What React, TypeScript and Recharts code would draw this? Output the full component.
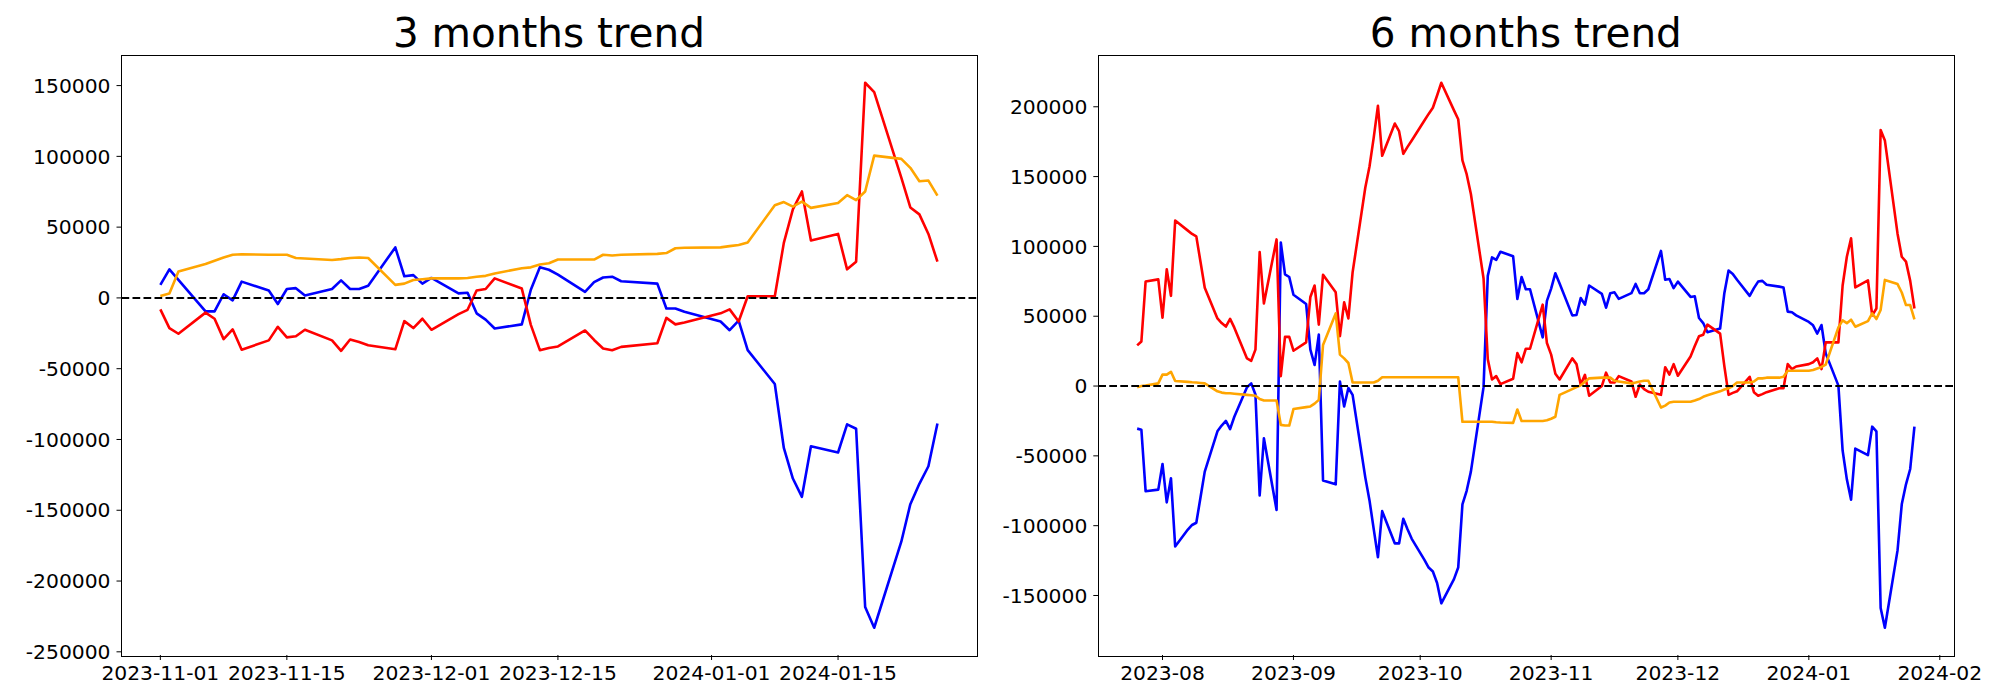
import { LineChart, Line, XAxis, YAxis, ReferenceLine } from "recharts"

// 3 months panel
const shortDates = [
  "2023-11-01", "2023-11-02", "2023-11-03", "2023-11-06", "2023-11-07", "2023-11-08", "2023-11-09", "2023-11-10",
  "2023-11-13", "2023-11-14", "2023-11-15", "2023-11-16", "2023-11-17", "2023-11-20", "2023-11-21", "2023-11-22",
  "2023-11-23", "2023-11-24", "2023-11-27", "2023-11-28", "2023-11-29", "2023-11-30", "2023-12-01", "2023-12-04",
  "2023-12-05", "2023-12-06", "2023-12-07", "2023-12-08", "2023-12-11", "2023-12-12", "2023-12-13", "2023-12-14",
  "2023-12-15", "2023-12-18", "2023-12-19", "2023-12-20", "2023-12-21", "2023-12-22", "2023-12-26", "2023-12-27",
  "2023-12-28", "2023-12-29", "2024-01-02", "2024-01-03", "2024-01-04", "2024-01-05", "2024-01-08", "2024-01-09",
  "2024-01-10", "2024-01-11", "2024-01-12", "2024-01-15", "2024-01-16", "2024-01-17", "2024-01-18", "2024-01-19",
  "2024-01-22", "2024-01-23", "2024-01-24", "2024-01-25", "2024-01-26",
]
const shortBlue = [
  9200, 20200, 12800, -9500, -9500, 2600, -1700, 11500,
  5200, -4300, 6300, 6900, 1700, 6300, 12400, 6300,
  6300, 8600, 35700, 15300, 16100, 10100, 14100, 3200,
  3700, -10900, -15300, -21600, -18700, 5800, 21600, 19900,
  16400, 4300, 11200, 14400, 15000, 11800, 10100, -7500,
  -7500, -9800, -16700, -22800, -16100, -36900, -60800, -106000,
  -127600, -140500, -104800, -109200, -89300, -92400, -218300, -233000,
  -172200, -145700, -131300, -118900, -88700,
]
const shortRed = [
  -8100, -21300, -25300, -10400, -14700, -29100, -22200, -36600,
  -30000, -20400, -27900, -27100, -22500, -30000, -37400, -29400,
  -31100, -33400, -36300, -16400, -21300, -14700, -22500, -11500,
  -8400, 5200, 6300, 13800, 6600, -19000, -36900, -35400,
  -34300, -23000, -29700, -35700, -36900, -34600, -32000, -14100,
  -18700, -17300, -10900, -8100, -16700, 1200, 1200, 38900,
  62500, 75200, 40600, 45200, 20200, 25600, 152000, 145400,
  85000, 63900, 59000, 45200, 25600,
]
const shortOrange = [
  1400, 3200, 18700, 23900, 26200, 28500, 30500, 30800,
  30500, 30500, 30500, 28200, 27900, 26800, 27400, 28200,
  28500, 28200, 9200, 10100, 12700, 13200, 13800, 13800,
  14100, 15000, 15600, 17300, 21000, 21600, 23600, 24500,
  27100, 27100, 27100, 30500, 30000, 30500, 31100, 31700,
  35100, 35400, 35700, 36600, 37400, 39200, 65400, 67700,
  64500, 68000, 63600, 67100, 72600, 69100, 75200, 100500,
  98200, 91900, 82400, 82900, 72300,
]
const shortTickDates = ["2023-11-01", "2023-11-15", "2023-12-01", "2023-12-15", "2024-01-01", "2024-01-15"]
const shortYTicks = [-250000, -200000, -150000, -100000, -50000, 0, 50000, 100000, 150000]

// 6 months panel
const longDates = [
  "2023-07-26", "2023-07-27", "2023-07-28", "2023-07-31",
  "2023-08-01", "2023-08-02", "2023-08-03", "2023-08-04", "2023-08-07", "2023-08-08", "2023-08-09", "2023-08-10",
  "2023-08-11", "2023-08-14", "2023-08-15", "2023-08-16", "2023-08-17", "2023-08-18", "2023-08-21", "2023-08-22",
  "2023-08-23", "2023-08-24", "2023-08-25", "2023-08-28", "2023-08-29", "2023-08-30", "2023-08-31",
  "2023-09-01", "2023-09-04", "2023-09-05", "2023-09-06", "2023-09-07", "2023-09-08", "2023-09-11", "2023-09-12",
  "2023-09-13", "2023-09-14", "2023-09-15", "2023-09-18", "2023-09-19", "2023-09-20", "2023-09-21", "2023-09-22",
  "2023-09-25", "2023-09-26", "2023-09-27", "2023-09-28", "2023-09-29",
  "2023-10-02", "2023-10-03", "2023-10-04", "2023-10-05", "2023-10-06", "2023-10-09", "2023-10-10", "2023-10-11",
  "2023-10-12", "2023-10-13", "2023-10-16", "2023-10-17", "2023-10-18", "2023-10-19", "2023-10-20", "2023-10-23",
  "2023-10-24", "2023-10-25", "2023-10-26", "2023-10-27", "2023-10-30", "2023-10-31",
  "2023-11-01", "2023-11-02", "2023-11-03", "2023-11-06", "2023-11-07", "2023-11-08", "2023-11-09", "2023-11-10",
  "2023-11-13", "2023-11-14", "2023-11-15", "2023-11-16", "2023-11-17", "2023-11-20", "2023-11-21", "2023-11-22",
  "2023-11-23", "2023-11-24", "2023-11-27", "2023-11-28", "2023-11-29", "2023-11-30",
  "2023-12-01", "2023-12-04", "2023-12-05", "2023-12-06", "2023-12-07", "2023-12-08", "2023-12-11", "2023-12-12",
  "2023-12-13", "2023-12-14", "2023-12-15", "2023-12-18", "2023-12-19", "2023-12-20", "2023-12-21", "2023-12-22",
  "2023-12-25", "2023-12-26", "2023-12-27", "2023-12-28", "2023-12-29",
  "2024-01-01", "2024-01-02", "2024-01-03", "2024-01-04", "2024-01-05", "2024-01-08", "2024-01-09", "2024-01-10",
  "2024-01-11", "2024-01-12", "2024-01-15", "2024-01-16", "2024-01-17", "2024-01-18", "2024-01-19", "2024-01-22",
  "2024-01-23", "2024-01-24", "2024-01-25", "2024-01-26",
]
const longBlue = [
  -30500, -31300, -75300, -74200,
  -55800, -83300, -66000, -114900, -102800, -99500, -97900, -79700,
  -61300, -32400, -28300, -25000, -30800, -22000, -800, 1900,
  -6000, -78300, -37400, -88800, 102800, 80000, 78100,
  65400, 58800, 26100, 15100, 36800, -67600, -70400, 3300,
  -14600, -1400, -6300, -65400, -81900, -102500, -122600, -89600,
  -112700, -112700, -95100, -102500, -109400,
  -124500, -130000, -132800, -141000, -155600, -138300, -130000, -84700,
  -75000, -61300, -800, 78900, 92100, 90400, 96200, 92900,
  62400, 78100, 69300, 69300, 34900, 61000,
  69800, 80800, 73400, 50600, 50900, 63000, 58300, 72000,
  66000, 56100, 66500, 67100, 62400, 66500, 73100, 66500,
  66500, 69300, 96800, 76100, 76700, 70100,
  74800, 63800, 64300, 48700, 45100, 38500, 41200, 66500,
  82700, 80300, 76100, 64600, 70100, 74800, 75300, 72600,
  71200, 70600, 53300, 52800, 50600,
  45900, 43500, 37600, 43700, 23400, 300, -46200, -66800,
  -81400, -44800, -49500, -29100, -32400, -158900, -173100, -117700,
  -84700, -70400, -59400, -29100,
]
const longRed = [
  29100, 31900, 74800, 76400,
  48900, 83600, 64600, 118500, 111300, 108900, 107200, 88800,
  70400, 48400, 45100, 42600, 48100, 41800, 19800, 18100,
  26100, 95900, 59100, 105000, 7100, 35200, 35200,
  25300, 31300, 63800, 72000, 44000, 79700, 67100, 35700,
  59900, 48400, 81400, 142000, 157200, 177900, 200700, 164900,
  188000, 182500, 166300, 171300, 175900,
  190200, 194900, 199300, 208100, 217200, 197400, 191100, 161600,
  151700, 137500, 77000, 19200, 4700, 7100, 1400, 5200,
  23600, 17000, 26700, 26700, 58300, 30800,
  22500, 8800, 4700, 19800, 15700, 1100, 8000, -6900,
  0, 9600, 2500, 2500, 7100, 3300, -7700, 1100,
  -2200, -4100, -6300, 13500, 8200, 15700,
  7400, 21200, 28600, 35700, 36800, 44000, 37500, 14300,
  -6300, -4900, -3800, 6600, -4400, -6900, -5800, -4400,
  -1600, -1600, 15700, 12100, 14000,
  15700, 17000, 19800, 12100, 31300, 31300, 72000, 92600,
  105800, 70600, 75600, 50600, 55500, 183400, 175900, 109100,
  92600, 89100, 75300, 55500,
]
const longOrange = [
  -800, 0, 300, 1900,
  8200, 8200, 10200, 3600, 3000, 2700, 2500, 2200,
  1900, -3800, -4700, -5200, -5200, -5500, -6300, -6600,
  -6900, -9300, -10400, -10400, -27800, -28300, -28300,
  -16500, -15100, -14600, -12600, -9900, 29400, 52000, 22500,
  19800, 16500, 2500, 2500, 2500, 2500, 3800, 6300,
  6300, 6300, 6300, 6300, 6300,
  6300, 6300, 6300, 6300, 6300, 6300, 6300, -25600,
  -25600, -25600, -25600, -25600, -25600, -25900, -26100, -26400,
  -16800, -25000, -25000, -25000, -25000, -24500,
  -23400, -22000, -6300, -2200, -800, 500, 3000, 5500,
  6000, 6000, 6000, 3800, 3300, 1900, 2500, 3300,
  3800, 3800, -15400, -14000, -11800, -11300,
  -11300, -11300, -10400, -9300, -7700, -6600, -3800, -2500,
  -1600, 0, 2500, 2500, 3300, 5500, 5500, 6000,
  6000, 6600, 11000, 11000, 11000,
  11000, 11500, 12600, 13700, 15400, 42000, 47000, 45000,
  47500, 42500, 46500, 52000, 48000, 54500, 76000, 73000,
  67000, 58000, 58000, 47700,
]
const longTickDates = ["2023-08-01", "2023-09-01", "2023-10-01", "2023-11-01", "2023-12-01", "2024-01-01", "2024-02-01"]
const longTickLabels = ["2023-08", "2023-09", "2023-10", "2023-11", "2023-12", "2024-01", "2024-02"]
const longYTicks = [-150000, -100000, -50000, 0, 50000, 100000, 150000, 200000]

const FONT = "DejaVu Sans, Verdana, sans-serif"

const dayNum = (s: string) => {
  const [y, m, d] = s.split("-").map(Number)
  return Date.UTC(y, m - 1, d) / 86400000
}

// matplotlib style auto limits: data range plus 5% each side
const padded = (vals: number[]) => {
  const lo = Math.min(...vals)
  const hi = Math.max(...vals)
  const p = (hi - lo) * 0.05
  return [lo - p, hi + p]
}

function Panel({ title, dates, blue, red, orange, tickDates, tickLabels, yTicks, x, plotLeft, plotRight }: any) {
  const data = dates.map((d: string, i: number) => ({
    t: dayNum(d),
    blue: blue[i],
    red: red[i],
    orange: orange[i],
  }))
  const xDomain = padded(data.map((r: any) => r.t))
  const yDomain = padded([...blue, ...red, ...orange])
  const ticks = tickDates.map(dayNum)
  const labelOf = (v: number) => {
    const i = ticks.indexOf(v)
    return tickLabels ? tickLabels[i] : tickDates[i]
  }

  const W = 1000
  const H = 700
  const plotTop = 55.5
  const xAxisH = 45
  const yAxisW = plotLeft - 12
  const tickStyle = { fontSize: 20.3, fill: "#000", fontFamily: FONT }

  return (
    <div style={{ position: "absolute", left: x, top: 0, width: W, height: H }}>
      <svg width={W} height={60} style={{ position: "absolute", left: 0, top: 0 }}>
        <text
          x={(plotLeft + plotRight) / 2}
          y={47}
          textAnchor="middle"
          fontSize={40.5}
          fontFamily={FONT}
          fill="#000"
        >
          {title}
        </text>
      </svg>
      <LineChart
        width={W}
        height={H}
        data={data}
        margin={{ top: plotTop, right: W - plotRight, bottom: 0, left: 12 }}
      >
        <XAxis
          dataKey="t"
          type="number"
          domain={xDomain}
          ticks={ticks}
          tickFormatter={labelOf}
          allowDataOverflow
          height={xAxisH}
          tick={tickStyle}
          tickSize={5}
          tickMargin={6}
          stroke="#000"
          axisLine={false}
          interval={0}
        />
        <YAxis
          type="number"
          domain={yDomain}
          ticks={yTicks}
          allowDataOverflow
          width={yAxisW}
          tick={tickStyle}
          tickSize={5}
          tickMargin={6}
          stroke="#000"
          axisLine={false}
          interval={0}
        />
        <Line dataKey="blue" stroke="#0000ff" strokeWidth={2.6} dot={false} strokeLinejoin="round" isAnimationActive={false} />
        <Line dataKey="red" stroke="#ff0000" strokeWidth={2.6} dot={false} strokeLinejoin="round" isAnimationActive={false} />
        <Line dataKey="orange" stroke="#ffa500" strokeWidth={2.6} dot={false} strokeLinejoin="round" isAnimationActive={false} />
        <ReferenceLine y={0} stroke="#000" strokeWidth={2} strokeDasharray="7.7 3.3" />
      </LineChart>
      <div
        style={{
          position: "absolute",
          left: plotLeft - 0.5,
          top: plotTop - 0.5,
          width: plotRight - plotLeft,
          height: H - xAxisH - plotTop,
          border: "1px solid #000",
          pointerEvents: "none",
        }}
      />
    </div>
  )
}

export default function App() {
  return (
    <div style={{ position: "absolute", left: 0, top: 0, width: 2000, height: 700, background: "#fff" }}>
      <Panel
        title="3 months trend"
        dates={shortDates}
        blue={shortBlue}
        red={shortRed}
        orange={shortOrange}
        tickDates={shortTickDates}
        yTicks={shortYTicks}
        x={0}
        plotLeft={121.5}
        plotRight={976.3}
      />
      <Panel
        title="6 months trend"
        dates={longDates}
        blue={longBlue}
        red={longRed}
        orange={longOrange}
        tickDates={longTickDates}
        tickLabels={longTickLabels}
        yTicks={longYTicks}
        x={1000}
        plotLeft={98.3}
        plotRight={953.3}
      />
    </div>
  )
}
